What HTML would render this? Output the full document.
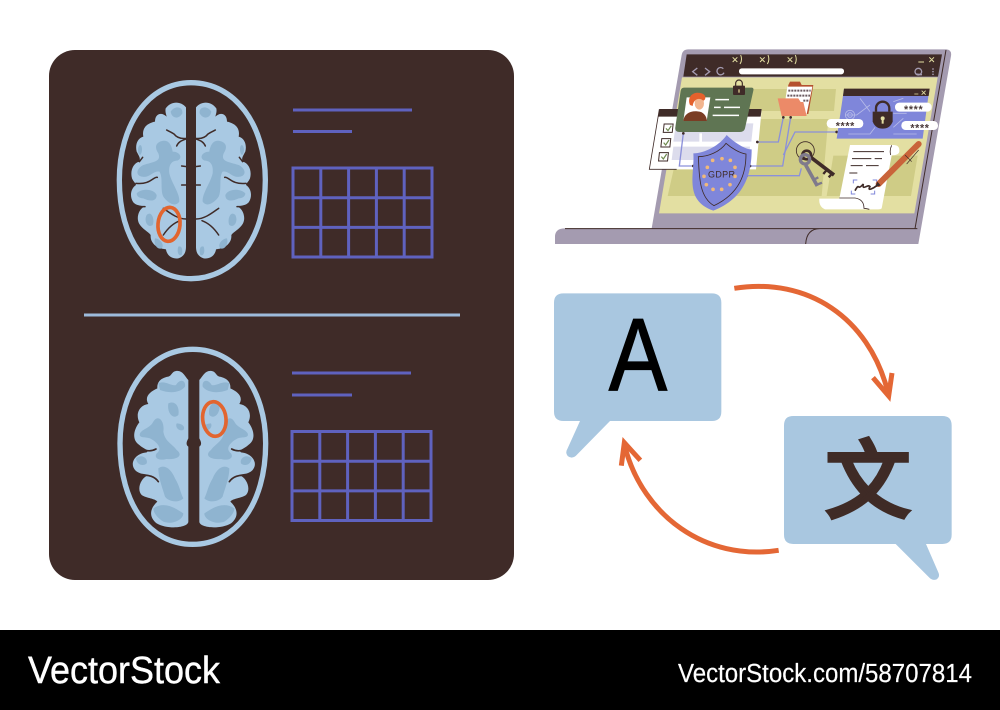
<!DOCTYPE html>
<html><head><meta charset="utf-8"><style>html,body{margin:0;padding:0;background:#fff}svg{display:block}</style></head>
<body>
<svg xmlns="http://www.w3.org/2000/svg" width="1000" height="710" viewBox="0 0 1000 710">
<defs>
<g id="h1">
<path fill="#a9c9e3" d="M258,112 C245,95 215,90 197,115 C195,125 198,132 200,140 C185,125 165,130 165,155 C140,160 125,175 130,200 C112,205 105,225 110,245 C118,260 122,265 118,275 C98,280 90,305 96,325 C100,335 108,340 108,345 C92,355 88,380 100,397 C110,408 122,405 132,410 C115,420 108,445 118,462 C128,478 145,485 152,495 C150,515 165,535 198,538 C200,555 215,568 235,565 C250,560 258,550 258,530 Z"/>
<path fill="#8fb4d0" d="M180,215 C205,205 215,225 218,245 C240,245 250,265 232,272 C215,272 205,285 208,310 C215,340 240,370 238,395 C225,415 200,395 190,380 C180,360 190,320 178,305 C160,300 150,325 125,320 C105,315 110,295 130,285 C160,275 185,275 175,250 C165,235 165,222 180,215 Z"/>
<path fill="#8fb4d0" d="M110,370 C125,355 160,355 170,375 C170,395 150,395 130,385 C120,385 110,380 110,370 Z M212,125 C225,105 250,110 247,130 C235,150 215,145 212,125 Z M140,435 C155,420 165,450 158,465 C145,475 130,455 140,435 Z M165,505 C180,505 195,525 185,535 C170,540 160,520 165,505 Z M235,530 C245,525 250,540 245,555 C235,560 230,545 235,530 Z M120,225 C128,225 128,250 120,255 C112,250 112,230 120,225 Z"/>
<path fill="none" stroke="#3f2b28" stroke-width="4.500" stroke-linecap="round" d="M260,205 C245,207 232,205 222,192 C212,185 205,183 200,180 M258,207 C245,212 235,215 230,228 M260,290 L245,288 M260,345 L245,345 M172,322 C160,320 150,345 108,340 M118,275 L128,262 M258,447 C230,447 205,425 190,415 M240,452 C218,460 200,480 190,495 M110,410 L135,410"/>
</g>
<g id="h2">
<path fill="#a9c9e3" d="M265,135 C255,125 248,105 228,108 C215,110 215,122 205,125 C185,128 170,140 172,160 C150,170 132,185 145,207 C120,210 105,235 118,262 C100,285 95,315 118,330 C135,345 150,345 140,352 C105,355 88,385 105,405 C120,420 135,415 145,420 C120,430 110,465 125,480 C140,490 165,490 172,500 C150,520 145,545 170,565 C205,585 265,578 265,560 L265,395 C255,390 235,390 230,405 C228,420 240,428 248,425 L265,395 L265,335 C258,330 258,322 265,310 Z"/>
<path fill="#8fb4d0" d="M175,145 C195,135 215,155 228,150 C240,130 258,135 255,155 C240,175 205,175 180,165 Z M205,205 C225,195 240,215 235,240 C220,255 200,235 205,205 Z M160,260 C175,235 195,260 190,290 C195,320 215,325 230,345 C250,360 235,375 200,372 C180,378 160,370 170,355 C190,340 170,320 150,310 C135,305 115,310 120,295 C130,280 150,280 160,260 Z M108,370 C125,355 145,370 140,385 C130,395 110,390 108,370 Z M175,400 C195,385 215,405 225,430 C240,455 240,470 250,490 C235,505 205,500 195,485 C190,465 175,430 175,400 Z M160,520 C190,500 220,515 250,535 C250,555 215,570 190,560 C175,550 160,535 160,520 Z M230,265 C245,265 258,275 250,285 C235,290 225,275 230,265 Z"/>
<path fill="none" stroke="#3f2b28" stroke-width="5" stroke-linecap="round" d="M110,328 C125,348 150,352 168,342 M125,422 C145,418 165,425 175,440"/>
</g>
</defs>

<rect width="1000" height="710" fill="#fff"/>
<rect x="49" y="50" width="465" height="530" rx="26" fill="#3f2b28"/>

<!-- Brain 1 -->
<g transform="translate(100,70) scale(.33333)">
<path d="M273,38 C405,38 496,165 496,330 C496,510 400,626 273,626 C145,626 58,510 58,330 C58,165 145,38 273,38 Z" fill="none" stroke="#a9c9e3" stroke-width="16"/>
<use href="#h1"/>
<use href="#h1" transform="translate(546,0) scale(-1,1)"/>
<ellipse cx="207" cy="463" rx="33" ry="51" fill="none" stroke="#e2652f" stroke-width="11" transform="rotate(5 207 463)"/>
</g>

<!-- Brain 2 -->
<g transform="translate(100,335) scale(.33333)">
<path d="M278,43 C410,43 497,165 497,325 C497,510 405,628 278,628 C150,628 60,510 60,325 C60,165 150,43 278,43 Z" fill="none" stroke="#a9c9e3" stroke-width="16"/>
<use href="#h2"/>
<use href="#h2" transform="translate(563,0) scale(-1,1)"/>
<ellipse cx="343" cy="252" rx="35" ry="52" fill="none" stroke="#e2652f" stroke-width="11" transform="rotate(-6 343 252)"/>
</g>

<!-- Panel lines -->
<g fill="none" stroke="#5f62bf" stroke-width="3">
<path d="M293,110H412M293,131.500H352"/>
<rect x="293" y="168" width="139" height="89"/>
<path d="M320.800,168V257M348.600,168V257M376.400,168V257M404.200,168V257M293,197.700H432M293,227.400H432"/>
<path d="M292,373H411M292,395H352"/>
<rect x="292" y="431.500" width="139" height="89"/>
<path d="M319.800,431.500V520.500M347.600,431.500V520.500M375.400,431.500V520.500M403.200,431.500V520.500M292,461.200H431M292,490.900H431"/>
</g>
<path d="M84,315H460" stroke="#9dbbdc" stroke-width="3"/>

<!-- Laptop -->
<g transform="translate(640,40) scale(.33333)">
<path fill="#a49bb0" d="M-255,565 H35 L125,45 Q128,28 145,28 H920 Q936,30 933,48 L835,612 H-255 V590 Q-255,565 -225,565 Z"/>
<path fill="none" stroke="#3f2b28" stroke-width="3" d="M-225,566 H832 M497,612 Q500,566 540,566 M918,30 L825,566"/>
<path fill="#3f2b28" d="M140,43 H906 L894,110 H130 Z"/>
<path fill="#e3dfa2" d="M126,112 H893 L823,520 H57 Z"/>
<path fill="#cfcc86" d="M130,147 H588 L582,213 H310 V150 Z M135,237 H565 L545,468 H83 Z M580,347 H833 L813,468 H560 Z"/>
<rect x="297" y="85" width="315" height="18" rx="8" fill="#fff"/>
<g fill="none" stroke="#a49bb0" stroke-width="4">
<path d="M172,84 L158,95 L172,106 M195,84 L209,95 L195,106 M250,86 A11,11 0 1 0 252,98 M828,102 L846,104 M826,95 m-1,0 a10,10 0 1 0 20,0 a10,10 0 1 0 -20,0"/>
<path stroke="#e3dfa2" stroke-width="3" d="M278,52 L292,66 M292,52 L278,66 M360,52 L374,66 M374,52 L360,66 M443,52 L457,66 M457,52 L443,66 M868,52 L882,66 M882,52 L868,66 M835,66 H852"/>
<path stroke="#e3dfa2" stroke-width="3" d="M300,72 Q308,60 302,45 M382,72 Q390,60 384,45 M465,72 Q472,60 466,45"/>
</g>
<circle cx="879" cy="87" r="2.500" fill="#a49bb0"/><circle cx="879" cy="95" r="2.500" fill="#a49bb0"/><circle cx="879" cy="103" r="2.500" fill="#a49bb0"/>

<!-- checklist window -->
<path fill="#fff" d="M58,208 H365 L348,388 H28 Z"/>
<path fill="none" stroke="#3f2b28" stroke-width="2.500" d="M58,208 L28,388 H110"/>
<path fill="#3f2b28" d="M58,207 H365 L362,230 H55 Z"/>
<path fill="#dcdcec" d="M108,250 H340 L334,305 H100 Z M100,320 H330 L325,360 H95 Z"/>
<path fill="#fff" d="M178,280 H186 V306 H178Z"/>
<g fill="#fff" stroke="#3f2b28" stroke-width="3">
<rect x="71" y="252" width="27" height="25" transform="skewX(-6)" transform-origin="84 265"/>
<rect x="64" y="296" width="27" height="25" transform="skewX(-6)" transform-origin="77 308"/>
<rect x="57" y="338" width="27" height="25" transform="skewX(-6)" transform-origin="70 350"/>
</g>
<path fill="none" stroke="#6f8a4f" stroke-width="3.500" d="M78,265 L84,272 L94,257 M71,308 L77,315 L87,300 M64,350 L70,357 L80,342"/>

<!-- connectors -->
<g fill="none" stroke="#8b90da" stroke-width="4">
<path d="M130,280 L118,378 H160"/>
<path d="M352,306 H415 L430,232"/>
<path d="M330,378 H428 L452,232"/>
<path d="M320,407 H478 L484,385"/>
<path d="M430,345 L465,276 H590"/>
</g>
<g fill="#3f2b28"><circle cx="130" cy="280" r="4"/><circle cx="160" cy="378" r="4"/><circle cx="352" cy="306" r="4"/><circle cx="430" cy="232" r="4"/><circle cx="452" cy="232" r="4"/><circle cx="330" cy="378" r="4"/><circle cx="320" cy="407" r="4"/><circle cx="590" cy="276" r="4"/></g>

<!-- green ID card -->
<path fill="#5f7553" d="M132,143 H335 Q342,143 340,152 L315,265 Q312,276 300,276 H118 Q104,276 106,262 L122,152 Q124,143 132,143 Z"/>
<path fill="#fff" d="M140,172 H211 L200,243 H130 Z"/>
<path fill="#7a3d24" d="M130,243 C132,222 150,212 172,214 C190,214 200,228 201,243 Z"/>
<ellipse cx="178" cy="190" rx="14" ry="19" fill="#f2b58e"/>
<path fill="#e4612c" d="M150,195 C140,170 160,152 185,160 C200,165 198,180 190,182 C175,170 160,180 158,198 Z"/>
<g stroke="#fff" stroke-width="4.500" fill="none"><path d="M226,179 H267 M222,202 H242 M252,202 H300 M218,226 H297"/></g>
<rect x="279" y="137" width="36" height="28" rx="3" fill="#3f2b28"/>
<path d="M287,138 V130 A10,10 0 0 1 307,130 V138" fill="none" stroke="#3f2b28" stroke-width="3.500"/>
<rect x="295" y="148" width="4" height="10" fill="#d6c98a"/>

<!-- Shield -->
<path fill="#7f86da" d="M260,285 C285,310 320,330 335,328 C335,400 315,475 220,512 C130,480 165,400 160,340 C195,340 240,315 260,285 Z"/>
<path fill="none" stroke="#3f2b28" stroke-width="2.500" d="M258,310 C275,325 300,340 318,342 C318,400 300,460 222,497 C175,470 178,400 175,350 C205,350 240,335 258,310 Z"/>
<text x="245" y="413" font-family="'Liberation Sans',sans-serif" font-size="27" fill="#3f2b28" text-anchor="middle" letter-spacing="1">GDPR</text>
<g fill="#f0b97a"><circle cx="246" cy="356" r="5.500"/><circle cx="218" cy="361" r="5.500"/><circle cx="271" cy="361" r="5.500"/><circle cx="202" cy="382" r="5.500"/><circle cx="285" cy="382" r="5.500"/><circle cx="192" cy="409" r="5.500"/><circle cx="285" cy="409" r="5.500"/><circle cx="199" cy="434" r="5.500"/><circle cx="270" cy="434" r="5.500"/><circle cx="219" cy="448" r="5.500"/><circle cx="245" cy="448" r="5.500"/></g>

<!-- folder -->
<path fill="#b5512f" d="M445,135 L450,125 H480 L485,135 H520 L505,222 H430 Z"/>
<path fill="#fff" d="M442,140 H517 L500,222 H430 Z"/>
<g stroke="#6a5a60" stroke-width="6" stroke-dasharray="6 3" fill="none"><path d="M445,152 H512 M442,167 H510 M490,182 H505"/></g>
<path fill="#ec8a68" d="M413,175 H475 L482,186 H490 L500,228 H425 Z"/>

<!-- Lock window -->
<path fill="#7f86da" d="M612,147 H868 L848,296 H590 Z"/>
<path fill="#3f2b28" d="M612,146 H869 L866,168 H609 Z"/>
<g stroke="#e3dfa2" stroke-width="2.500" fill="none"><path d="M823,162 H835 M845,152 L857,164 M857,152 L845,164"/></g>
<g fill="none" stroke="#b7bbe8" stroke-width="2.500"><path d="M615,225 H650 L690,195 M660,175 L690,215 M625,282 H690 L705,262 M760,282 H830 M760,185 L790,175 M760,220 H800 M760,262 L790,235"/><circle cx="630" cy="225" r="14"/><circle cx="630" cy="225" r="7"/></g>
<path d="M708,215 V205 A20,20 0 0 1 748,205 V215" fill="none" stroke="#3f2b28" stroke-width="7"/>
<path fill="#3f2b28" d="M698,215 H758 V245 Q750,266 728,266 Q706,266 698,245 Z"/>
<circle cx="728" cy="235" r="6" fill="#e3dfa2"/><rect x="725" y="235" width="6" height="16" fill="#e3dfa2"/>
<rect x="765" y="188" width="110" height="27" rx="13" fill="#fff"/>
<rect x="784" y="243" width="110" height="27" rx="13" fill="#fff"/>
<rect x="560" y="237" width="110" height="27" rx="13" fill="#fff"/>
<g font-family="'Liberation Sans',sans-serif" font-size="32" font-weight="700" fill="#4a3a3a" text-anchor="middle" letter-spacing="2">
<text x="821" y="219">****</text><text x="840" y="274">****</text><text x="616" y="268">****</text>
</g>

<!-- keys -->
<circle cx="496" cy="332" r="27" fill="none" stroke="#3f2b28" stroke-width="2.500"/>
<path d="M510,350 L582,405" stroke="#3f2b28" stroke-width="11"/><path d="M560,390 L550,402 M575,402 L566,412" stroke="#3f2b28" stroke-width="7"/>
<circle cx="500" cy="345" r="13" fill="none" stroke="#3f2b28" stroke-width="8"/>
<path d="M497,375 L532,438" stroke="#7f7a8c" stroke-width="11"/><path d="M520,420 L535,412 M528,435 L546,428" stroke="#7f7a8c" stroke-width="7"/>
<circle cx="495" cy="358" r="14" fill="none" stroke="#7f7a8c" stroke-width="10"/>

<!-- document -->
<path fill="#fff" d="M630,315 H760 Q780,315 778,335 Q776,346 755,346 L725,505 Q722,508 715,508 H555 Q536,500 538,476 H598 Z"/>
<path fill="none" stroke="#3f2b28" stroke-width="2.500" d="M755,316 Q748,330 752,345 M598,474 H645 Q672,478 672,505 Q680,506 688,508"/>
<g stroke="#3f2b28" stroke-width="3" fill="none"><path d="M640,335 H732 M636,356 H694 M704,356 H726 M632,377 H668 M678,377 H716 M628,399 H652"/>
<path d="M645,452 C660,425 650,455 670,432 C665,455 685,430 690,440 C680,455 700,445 710,437" stroke-width="5"/></g>
<path fill="none" stroke="#7f86da" stroke-width="3" d="M640,430 V420 H652 M698,420 H710 V430 M634,452 V462 H646 M692,462 H704 V452"/>
<path d="M716,432 L836,312" stroke="#c9643a" stroke-width="18" stroke-linecap="round"/>
<path d="M705,442 L712,425 L722,436 Z" fill="#3f2b28"/>
<path fill="none" stroke="#3f2b28" stroke-width="2" d="M800,372 L836,330 M795,345 L815,365"/>
</g>

<!-- Speech bubbles -->
<g transform="translate(545,275) scale(.33333)">
<path fill="#a9c7e0" d="M55,55 H501 Q529,55 529,83 V410 Q529,438 501,438 H195 L92,543 Q80,553 68,543 Q60,533 67,522 L105,438 H55 Q27,438 27,410 V83 Q27,55 55,55 Z"/>
<path fill="#a9c7e0" d="M745,423 H1192 Q1220,423 1220,451 V779 Q1220,807 1192,807 H1143 L1180,892 Q1186,905 1175,913 Q1163,918 1153,908 L1052,807 H745 Q717,807 717,779 V451 Q717,423 745,423 Z"/>
<g fill="none" stroke="#e46735" stroke-width="15">
<path d="M568,40 C790,5 970,130 1027,345"/>
<path d="M701,826 C480,860 295,720 241,520"/>
<path stroke-miterlimit="10" d="M984,308 L1031,363 L1041,294"/>
<path stroke-miterlimit="10" d="M286,556 L238,503 L229,572"/>
</g>
</g>
<text x="0" y="0" transform="translate(638,390.500) scale(.85,1)" font-family="'Liberation Sans',sans-serif" font-size="103" fill="#000" stroke="#000" stroke-width="1.200" text-anchor="middle">A</text>
<text x="868" y="511" font-family="'WenQuanYi Zen Hei','Noto Sans CJK SC',sans-serif" font-size="85" fill="#3f2b26" stroke="#3f2b26" stroke-width="4.500" text-anchor="middle">文</text>

<!-- Footer -->
<rect y="630" width="1000" height="80" fill="#000"/>
<text x="28" y="683" font-family="'Liberation Sans',sans-serif" font-size="38" fill="#fff" stroke="#fff" stroke-width=".4" textLength="192" lengthAdjust="spacingAndGlyphs">VectorStock</text>
<text x="678" y="682" font-family="'Liberation Sans',sans-serif" font-size="25.500" fill="#fff" stroke="#fff" stroke-width=".2" textLength="294" lengthAdjust="spacingAndGlyphs">VectorStock.com/58707814</text>
</svg>
</body></html>
